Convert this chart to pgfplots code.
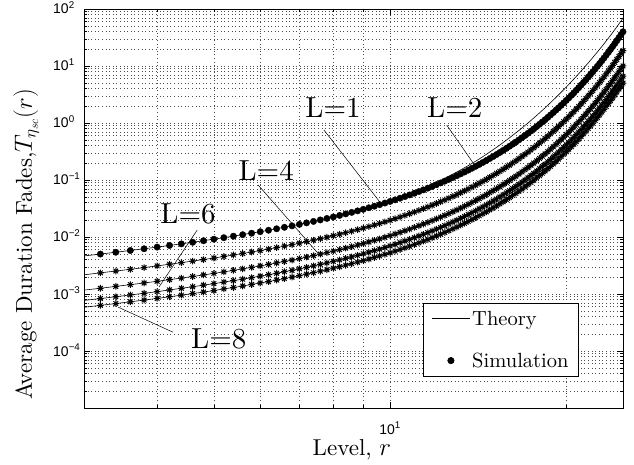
\documentclass[border=0pt]{standalone}
\usepackage{fontspec}
\setmainfont{lmroman10-regular.otf}[BoldFont=lmroman10-bold.otf, ItalicFont=lmroman10-italic.otf]
\usepackage{pgfplots}
\pgfplotsset{compat=1.18}
\usepackage{pgfplotstable}
\newfontfamily\tickfont{Liberation Sans}

% MATLAB-style asterisk (+ and x)
\pgfdeclareplotmark{mstar}{%
  \pgfpathmoveto{\pgfqpoint{-\pgfplotmarksize}{0pt}}\pgfpathlineto{\pgfqpoint{\pgfplotmarksize}{0pt}}%
  \pgfpathmoveto{\pgfqpoint{0pt}{-\pgfplotmarksize}}\pgfpathlineto{\pgfqpoint{0pt}{\pgfplotmarksize}}%
  \pgfpathmoveto{\pgfqpoint{-.707\pgfplotmarksize}{-.707\pgfplotmarksize}}\pgfpathlineto{\pgfqpoint{.707\pgfplotmarksize}{.707\pgfplotmarksize}}%
  \pgfpathmoveto{\pgfqpoint{-.707\pgfplotmarksize}{.707\pgfplotmarksize}}\pgfpathlineto{\pgfqpoint{.707\pgfplotmarksize}{-.707\pgfplotmarksize}}%
  \pgfusepathqstroke}

% level r, simulated/theory average fade duration for L = 1,2,4,6,8
\pgfplotstableread{
r L1 L2 L4 L6 L8
3.0 4.65e-3 2.17e-3 1.17e-3 7.72e-4 5.85e-4
3.2 5.02e-3 2.35e-3 1.26e-3 8.33e-4 6.32e-4
3.4 5.40e-3 2.53e-3 1.36e-3 8.96e-4 6.80e-4
3.6 5.80e-3 2.71e-3 1.46e-3 9.63e-4 7.30e-4
3.8 6.22e-3 2.91e-3 1.56e-3 1.03e-3 7.83e-4
4.0 6.65e-3 3.11e-3 1.67e-3 1.10e-3 8.37e-4
4.2 7.11e-3 3.33e-3 1.79e-3 1.18e-3 8.95e-4
4.4 7.58e-3 3.55e-3 1.90e-3 1.26e-3 9.54e-4
4.6 8.08e-3 3.78e-3 2.03e-3 1.34e-3 1.02e-3
4.8 8.60e-3 4.02e-3 2.16e-3 1.43e-3 1.08e-3
5.0 9.15e-3 4.28e-3 2.30e-3 1.52e-3 1.15e-3
5.2 9.73e-3 4.55e-3 2.44e-3 1.62e-3 1.23e-3
5.4 1.034e-2 4.84e-3 2.60e-3 1.72e-3 1.30e-3
5.6 1.098e-2 5.14e-3 2.76e-3 1.82e-3 1.38e-3
5.8 1.166e-2 5.45e-3 2.93e-3 1.94e-3 1.47e-3
6.0 1.238e-2 5.79e-3 3.11e-3 2.06e-3 1.56e-3
6.2 1.313e-2 6.14e-3 3.30e-3 2.18e-3 1.65e-3
6.4 1.394e-2 6.52e-3 3.50e-3 2.31e-3 1.76e-3
6.6 1.479e-2 6.92e-3 3.72e-3 2.46e-3 1.86e-3
6.8 1.569e-2 7.34e-3 3.94e-3 2.60e-3 1.98e-3
7.0 1.666e-2 7.79e-3 4.18e-3 2.77e-3 2.10e-3
7.2 1.768e-2 8.27e-3 4.44e-3 2.93e-3 2.23e-3
7.4 1.877e-2 8.78e-3 4.72e-3 3.12e-3 2.36e-3
7.6 1.993e-2 9.32e-3 5.01e-3 3.31e-3 2.51e-3
7.8 2.116e-2 9.90e-3 5.32e-3 3.51e-3 2.66e-3
8.0 2.249e-2 1.052e-2 5.65e-3 3.73e-3 2.83e-3
8.2 2.390e-2 1.118e-2 6.00e-3 3.97e-3 3.01e-3
8.4 2.541e-2 1.188e-2 6.38e-3 4.22e-3 3.20e-3
8.6 2.702e-2 1.264e-2 6.79e-3 4.49e-3 3.40e-3
8.8 2.873e-2 1.344e-2 7.22e-3 4.77e-3 3.62e-3
9.0 3.058e-2 1.430e-2 7.68e-3 5.08e-3 3.85e-3
9.2 3.256e-2 1.523e-2 8.18e-3 5.41e-3 4.10e-3
9.4 3.467e-2 1.622e-2 8.71e-3 5.76e-3 4.37e-3
9.6 3.695e-2 1.728e-2 9.28e-3 6.13e-3 4.65e-3
9.8 3.941e-2 1.843e-2 9.90e-3 6.54e-3 4.96e-3
10.0 4.204e-2 1.966e-2 1.056e-2 6.98e-3 5.29e-3
10.2 4.486e-2 2.098e-2 1.127e-2 7.45e-3 5.65e-3
10.4 4.791e-2 2.241e-2 1.204e-2 7.95e-3 6.03e-3
10.6 5.118e-2 2.394e-2 1.286e-2 8.50e-3 6.44e-3
10.8 5.472e-2 2.559e-2 1.375e-2 9.08e-3 6.89e-3
11.0 5.854e-2 2.738e-2 1.471e-2 9.72e-3 7.37e-3
11.2 6.265e-2 2.930e-2 1.574e-2 1.040e-2 7.89e-3
11.4 6.710e-2 3.138e-2 1.686e-2 1.114e-2 8.45e-3
11.6 7.191e-2 3.363e-2 1.806e-2 1.194e-2 9.05e-3
11.8 7.709e-2 3.606e-2 1.937e-2 1.280e-2 9.71e-3
12.0 8.272e-2 3.869e-2 2.078e-2 1.373e-2 1.041e-2
12.2 8.882e-2 4.154e-2 2.231e-2 1.474e-2 1.118e-2
12.4 9.542e-2 4.463e-2 2.397e-2 1.584e-2 1.201e-2
12.6 1.026e-1 4.799e-2 2.577e-2 1.703e-2 1.292e-2
12.8 1.103e-1 5.159e-2 2.771e-2 1.831e-2 1.389e-2
13.0 1.188e-1 5.556e-2 2.984e-2 1.972e-2 1.496e-2
13.2 1.280e-1 5.987e-2 3.215e-2 2.125e-2 1.612e-2
13.4 1.379e-1 6.450e-2 3.464e-2 2.289e-2 1.736e-2
13.6 1.488e-1 6.959e-2 3.738e-2 2.470e-2 1.873e-2
13.8 1.606e-1 7.511e-2 4.034e-2 2.666e-2 2.022e-2
14.0 1.735e-1 8.115e-2 4.358e-2 2.880e-2 2.184e-2
14.2 1.875e-1 8.769e-2 4.710e-2 3.113e-2 2.361e-2
14.4 2.028e-1 9.485e-2 5.094e-2 3.366e-2 2.553e-2
14.6 2.196e-1 1.027e-1 5.516e-2 3.645e-2 2.765e-2
14.8 2.379e-1 1.113e-1 5.976e-2 3.949e-2 2.995e-2
15.0 2.579e-1 1.206e-1 6.478e-2 4.281e-2 3.247e-2
15.2 2.797e-1 1.308e-1 7.026e-2 4.643e-2 3.521e-2
15.4 3.037e-1 1.420e-1 7.629e-2 5.041e-2 3.824e-2
15.6 3.300e-1 1.543e-1 8.290e-2 5.478e-2 4.155e-2
15.8 3.589e-1 1.679e-1 9.016e-2 5.958e-2 4.519e-2
16.0 3.905e-1 1.826e-1 9.809e-2 6.482e-2 4.916e-2
16.2 4.252e-1 1.989e-1 1.068e-1 7.058e-2 5.353e-2
16.4 4.634e-1 2.167e-1 1.164e-1 7.692e-2 5.834e-2
16.6 5.055e-1 2.364e-1 1.270e-1 8.391e-2 6.364e-2
16.8 5.516e-1 2.580e-1 1.386e-1 9.157e-2 6.945e-2
17.0 6.026e-1 2.818e-1 1.514e-1 1.000e-1 7.587e-2
17.2 6.587e-1 3.081e-1 1.655e-1 1.093e-1 8.293e-2
17.4 7.206e-1 3.370e-1 1.810e-1 1.196e-1 9.072e-2
17.6 7.891e-1 3.691e-1 1.982e-1 1.310e-1 9.935e-2
17.8 8.646e-1 4.044e-1 2.172e-1 1.435e-1 1.089e-1
18.0 9.482e-1 4.435e-1 2.382e-1 1.574e-1 1.194e-1
18.2 1.041 4.869e-1 2.615e-1 1.728e-1 1.311e-1
18.4 1.143 5.346e-1 2.871e-1 1.897e-1 1.439e-1
18.6 1.256 5.874e-1 3.155e-1 2.085e-1 1.581e-1
18.8 1.382 6.464e-1 3.472e-1 2.294e-1 1.740e-1
19.0 1.521 7.114e-1 3.821e-1 2.525e-1 1.915e-1
19.2 1.677 7.843e-1 4.213e-1 2.784e-1 2.111e-1
19.4 1.849 8.648e-1 4.645e-1 3.069e-1 2.328e-1
19.6 2.040 9.541e-1 5.124e-1 3.386e-1 2.568e-1
19.8 2.254 1.054 5.662e-1 3.742e-1 2.838e-1
20.0 2.491 1.165 6.257e-1 4.135e-1 3.136e-1
20.2 2.756 1.289 6.923e-1 4.575e-1 3.470e-1
20.4 3.051 1.427 7.664e-1 5.065e-1 3.841e-1
20.6 3.382 1.582 8.496e-1 5.614e-1 4.258e-1
20.8 3.751 1.754 9.423e-1 6.227e-1 4.723e-1
21.0 4.162 1.947 1.045 6.909e-1 5.240e-1
21.2 4.623 2.162 1.161 7.674e-1 5.820e-1
21.4 5.141 2.404 1.291 8.534e-1 6.473e-1
21.6 5.720 2.675 1.437 9.495e-1 7.201e-1
21.8 6.370 2.979 1.600 1.057 8.020e-1
22.0 7.098 3.320 1.783 1.178 8.936e-1
22.2 7.920 3.704 1.990 1.315 9.971e-1
22.4 8.839 4.134 2.220 1.467 1.113
22.6 9.877 4.619 2.481 1.640 1.244
22.8 11.04 5.163 2.773 1.833 1.390
23.0 12.36 5.781 3.105 2.052 1.556
23.2 13.84 6.473 3.477 2.297 1.742
23.4 15.52 7.259 3.899 2.576 1.954
23.6 17.42 8.147 4.376 2.892 2.193
23.8 19.56 9.148 4.913 3.247 2.463
24.0 21.97 10.28 5.519 3.647 2.766
24.2 24.72 11.56 6.210 4.104 3.112
24.4 27.83 13.02 6.991 4.620 3.504
24.6 31.35 14.66 7.875 5.204 3.947
24.8 35.36 16.54 8.882 5.870 4.452
25.0 39.90 18.66 10.02 6.623 5.023
}\simdata

% theory curve for L = 1 (leaves the simulation above r = 10)
\pgfplotstableread{
r T1
3.0 4.65e-3
3.4 5.40e-3
4.0 6.65e-3
4.6 8.08e-3
5.2 9.73e-3
6.0 1.238e-2
7.0 1.666e-2
8.0 2.249e-2
9.0 3.058e-2
10.0 4.204e-2
10.6 5.177e-2
11.2 6.560e-2
11.8 8.356e-2
12.4 1.071e-1
13.0 1.380e-1
13.6 1.789e-1
14.2 2.333e-1
14.8 3.086e-1
15.4 4.106e-1
16.0 5.516e-1
16.6 7.391e-1
17.2 9.970e-1
17.8 1.355
18.4 1.841
19.0 2.524
19.6 3.456
20.2 4.756
20.8 6.563
21.4 9.079
22.0 12.62
22.6 17.56
23.2 24.50
23.8 34.38
24.4 48.59
25.0 69.34
}\theoryone

\begin{document}
\begin{tikzpicture}
\begin{axis}[
  scale only axis, width=539pt, height=399pt,
  xmode=log, ymode=log,
  xmin=3, xmax=25, ymin=1e-5, ymax=1e2,
  xtick={10}, xticklabels={10\textsuperscript{1}},
  minor xtick={4,5,6,7,8,9,20},
  ytick={1e-5,1e-4,1e-3,1e-2,1e-1,1,10,100},
  yticklabels={{},{10\textsuperscript{−4}},{10\textsuperscript{−3}},{10\textsuperscript{−2}},{10\textsuperscript{−1}},{10\textsuperscript{0}},{10\textsuperscript{1}},{10\textsuperscript{2}}},
  minor ytick={2e-5,3e-5,4e-5,5e-5,6e-5,7e-5,8e-5,9e-5,
    2e-4,3e-4,4e-4,5e-4,6e-4,7e-4,8e-4,9e-4,
    2e-3,3e-3,4e-3,5e-3,6e-3,7e-3,8e-3,9e-3,
    2e-2,3e-2,4e-2,5e-2,6e-2,7e-2,8e-2,9e-2,
    0.2,0.3,0.4,0.5,0.6,0.7,0.8,0.9,2,3,4,5,6,7,8,9,20,30,40,50,60,70,80,90},
  tick label style={font=\tickfont\fontsize{14}{16}\selectfont, inner sep=0pt},
  yticklabel style={anchor=base west, xshift=-31pt, yshift=-5pt},
  xticklabel style={anchor=base, yshift=-26pt},
  tick align=inside, xtick pos=both, ytick pos=both,
  major tick length=6pt, minor tick length=3pt,
  every tick/.style={black, line width=0.5pt},
  grid=both,
  major grid style={black!70, line width=0.5pt, dash pattern=on 0.8pt off 2.8pt},
  minor grid style={black!70, line width=0.5pt, dash pattern=on 0.8pt off 2.8pt},
  axis line style={line width=0.8pt},
  xlabel={Level, $r$},
  ylabel={Average Duration Fades,$T_{\eta_{sc}}(r)$},
  every axis x label/.style={at={(rel axis cs:0.497,-0.118)}, anchor=base,
    font=\fontsize{23}{26}\selectfont},
  every axis y label/.style={at={(rel axis cs:-0.1076,0.41)}, rotate=90, anchor=center,
    font=\fontsize{23}{26}\selectfont},
  legend style={at={(0.918,0.078)}, anchor=south east, draw=black, line width=0.6pt,
    font=\fontsize{20.5}{24}\selectfont, inner xsep=8pt, inner ysep=6pt, row sep=22pt,
    cells={anchor=west}},
  legend image code/.code={\draw[mark repeat=2,mark phase=2,#1] plot coordinates {(0pt,0pt) (19pt,0pt) (38pt,0pt)};},
]
\addplot[black, line width=0.6pt] table[x=r, y=T1] {\theoryone};
\addlegendentry{Theory}
\addplot[black, only marks, mark=*, mark size=3.2pt, skip coords between index={0}{1}] table[x=r, y=L1] {\simdata};
\addlegendentry{Simulation\hspace{12pt}}
\addplot[black, line width=0.6pt, forget plot] table[x=r, y=L2] {\simdata};
\addplot[black, line width=0.6pt, forget plot] table[x=r, y=L4] {\simdata};
\addplot[black, line width=0.6pt, forget plot] table[x=r, y=L6] {\simdata};
\addplot[black, line width=0.6pt, forget plot] table[x=r, y=L8] {\simdata};
\addplot[black, only marks, mark=mstar, mark size=3.3pt, line width=1pt, forget plot, skip coords between index={0}{1}] table[x=r, y=L2] {\simdata};
\addplot[black, only marks, mark=mstar, mark size=3.3pt, line width=1pt, forget plot, skip coords between index={0}{1}] table[x=r, y=L4] {\simdata};
\addplot[black, only marks, mark=mstar, mark size=3.3pt, line width=1pt, forget plot, skip coords between index={0}{1}] table[x=r, y=L6] {\simdata};
\addplot[black, only marks, mark=mstar, mark size=3.3pt, line width=1pt, forget plot, skip coords between index={0}{1}] table[x=r, y=L8] {\simdata};

% curve labels with pointers
\begin{scope}[font=\fontsize{29}{29}\selectfont]
\node at (rel axis cs:0.462,0.752) {L=1};
\node at (rel axis cs:0.688,0.752) {L=2};
\node at (rel axis cs:0.338,0.596) {L=4};
\node at (rel axis cs:0.193,0.486) {L=6};
\node at (rel axis cs:0.250,0.173) {L=8};
\end{scope}
\draw[line width=0.5pt] (rel axis cs:0.445,0.697) -- (rel axis cs:0.549,0.516);
\draw[line width=0.5pt] (rel axis cs:0.673,0.709) -- (rel axis cs:0.722,0.614);
\draw[line width=0.5pt] (rel axis cs:0.323,0.559) -- (rel axis cs:0.434,0.388);
\draw[line width=0.5pt] (rel axis cs:0.210,0.446) -- (rel axis cs:0.139,0.303);
\draw[line width=0.5pt] (rel axis cs:0.165,0.190) -- (rel axis cs:0.063,0.253);
\end{axis}
\path (current axis.south west) -- ++(-84pt,-57pt);
\path (current axis.north east) -- ++(11pt,9pt);
\end{tikzpicture}
\end{document}
